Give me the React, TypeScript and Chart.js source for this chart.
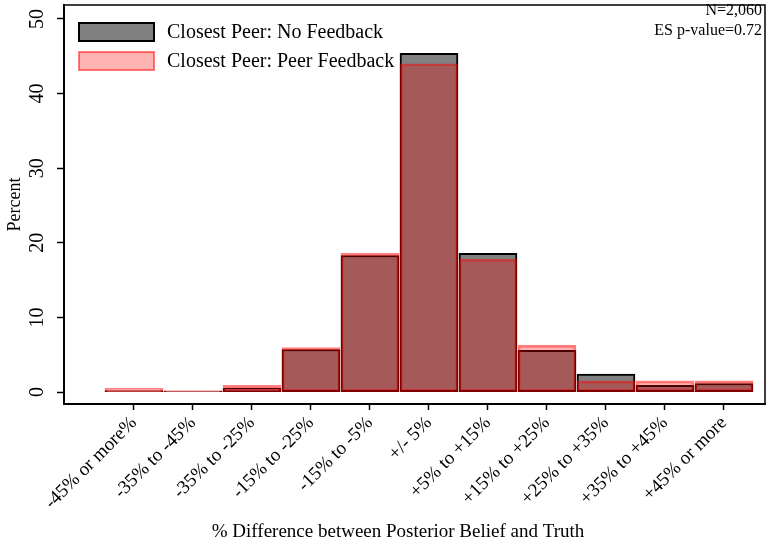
import React, { useEffect, useRef } from "react";
import { Chart, registerables } from "chart.js";

Chart.register(...registerables);

const categories = [
  "-45% or more%",
  "-35% to -45%",
  "-35% to -25%",
  "-15% to -25%",
  "-15% to -5%",
  "+/- 5%",
  "+5% to +15%",
  "+15% to +25%",
  "+25% to +35%",
  "+35% to +45%",
  "+45% or more",
];
const noFeedback = [0.2, 0.1, 0.5, 5.7, 18.3, 45.4, 18.6, 5.6, 2.4, 0.9, 1.15];
const peerFeedback = [0.5, 0.2, 0.9, 5.95, 18.6, 44.0, 17.8, 6.3, 1.5, 1.5, 1.5];
const yTicks = [0, 10, 20, 30, 40, 50];
const seriesNames = ["Closest Peer: No Feedback", "Closest Peer: Peer Feedback"];
const xTitle = "% Difference between Posterior Belief and Truth";
const yTitle = "Percent";
const notes = ["N=2,060", "ES p-value=0.72"];

const FONT = "'Liberation Serif', 'Times New Roman', serif";
const GRAY_FILL = "rgb(128,128,128)";
const GRAY_BORDER = "#000000";
const RED_FILL = "rgba(255,0,0,0.3)";
const RED_BORDER = "rgba(255,0,0,0.5)";

const overlayPlugin = {
  id: "overlay",
  afterDraw(chart: any) {
    const ctx = chart.ctx as CanvasRenderingContext2D;
    const { left, top, right, bottom } = chart.chartArea;
    const yScale = chart.scales.y;
    ctx.save();
    // box top & right
    ctx.strokeStyle = "#000";
    ctx.lineWidth = 1.5;
    ctx.beginPath();
    ctx.moveTo(left, top);
    ctx.lineTo(right, top);
    ctx.lineTo(right, bottom);
    ctx.stroke();

    // y tick labels (rotated)
    ctx.fillStyle = "#000";
    ctx.font = `20px ${FONT}`;
    ctx.textAlign = "center";
    ctx.textBaseline = "middle";
    yTicks.forEach((v) => {
      const y = yScale.getPixelForValue(v);
      ctx.save();
      ctx.translate(38, y);
      ctx.rotate(-Math.PI / 2);
      ctx.fillText(String(v), 0, 0);
      ctx.restore();
    });

    // y title
    ctx.save();
    ctx.translate(15, (top + bottom) / 2);
    ctx.rotate(-Math.PI / 2);
    ctx.font = `18px ${FONT}`;
    ctx.fillText(yTitle, 0, 0);
    ctx.restore();

    // x title
    ctx.font = `19px ${FONT}`;
    ctx.fillText(xTitle, 398, 532);

    // legend
    const sw = [
      { fill: GRAY_FILL, stroke: GRAY_BORDER, y: 23 },
      { fill: RED_FILL, stroke: RED_BORDER, y: 52 },
    ];
    sw.forEach((s, i) => {
      ctx.fillStyle = s.fill;
      ctx.fillRect(79, s.y, 75, 18);
      ctx.strokeStyle = s.stroke;
      ctx.lineWidth = 2;
      ctx.strokeRect(79, s.y, 75, 18);
      ctx.fillStyle = "#000";
      ctx.font = `20px ${FONT}`;
      ctx.textAlign = "left";
      ctx.textBaseline = "middle";
      ctx.fillText(seriesNames[i], 167, s.y + 10);
    });

    // notes top right
    ctx.font = `16px ${FONT}`;
    ctx.textAlign = "right";
    ctx.textBaseline = "middle";
    ctx.fillText(notes[0], 762, 11);
    ctx.fillText(notes[1], 762, 31);
    ctx.restore();
  },
};

export default function App() {
  const canvasRef = useRef<HTMLCanvasElement | null>(null);

  useEffect(() => {
    const canvas = canvasRef.current;
    if (!canvas) return;
    const chart = new Chart(canvas, {
      type: "bar",
      data: {
        datasets: [
          {
            label: seriesNames[1],
            data: peerFeedback.map((v, i) => ({ x: i, y: v })),
            backgroundColor: RED_FILL,
            borderColor: RED_BORDER,
            borderWidth: 2,
            borderSkipped: false,
            grouped: false,
            barThickness: 58,
            order: 0,
          } as any,
          {
            label: seriesNames[0],
            data: noFeedback.map((v, i) => ({ x: i, y: v })),
            backgroundColor: GRAY_FILL,
            borderColor: GRAY_BORDER,
            borderWidth: 2,
            borderSkipped: false,
            grouped: false,
            barThickness: 58,
            order: 1,
          } as any,
        ],
      },
      options: {
        animation: false,
        responsive: true,
        maintainAspectRatio: false,
        layout: { padding: { top: 5, right: 1, left: 0, bottom: 0 } },
        plugins: {
          legend: { display: false },
          tooltip: { enabled: false },
        },
        scales: {
          x: {
            type: "linear",
            offset: false,
            min: -1.186,
            max: 10.695,
            afterBuildTicks: (axis: any) => {
              axis.ticks = categories.map((_, i) => ({ value: i }));
            },
            afterFit: (scale: any) => {
              scale.height = 139;
            },
            ticks: {
              autoSkip: false,
              maxRotation: 45,
              minRotation: 45,
              padding: 2,
              color: "#000",
              font: { family: FONT, size: 19 },
              callback: (v: any) => categories[Math.round(Number(v))],
            },
            grid: {
              offset: false,
              drawOnChartArea: false,
              drawTicks: true,
              tickLength: 6,
              tickColor: "#000",
              tickWidth: 1.5,
            },
            border: { color: "#000", width: 2 },
          },
          y: {
            type: "linear",
            min: -1.6,
            max: 51.87,
            afterBuildTicks: (axis: any) => {
              axis.ticks = yTicks.map((v) => ({ value: v }));
            },
            afterFit: (scale: any) => {
              scale.width = 64;
            },
            ticks: { display: false },
            grid: {
              drawOnChartArea: false,
              drawTicks: true,
              tickLength: 7,
              tickColor: "#000",
              tickWidth: 1.5,
            },
            border: { color: "#000", width: 2 },
          },
        },
      },
      plugins: [overlayPlugin],
    } as any);
    return () => chart.destroy();
  }, []);

  return (
    <div style={{ position: "absolute", left: 0, top: 0, width: 766, height: 543, background: "#fff" }}>
      <canvas ref={canvasRef} />
    </div>
  );
}
